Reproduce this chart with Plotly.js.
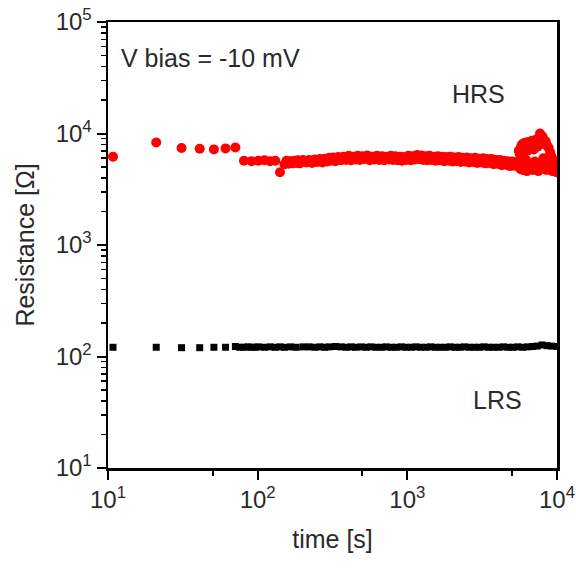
<!DOCTYPE html>
<html>
<head>
<meta charset="utf-8">
<script src="https://cdn.plot.ly/plotly-3.0.1.min.js"></script>
<style>html,body{margin:0;padding:0;background:#fff;}#chart{width:576px;height:570px;}</style>
</head>
<body>
<div id="chart"></div>
<script>
// HRS (red) data: time [s], resistance [Ohm]
const hrsTime = [10.8,21,31,41,51,61,71,81,91,101,
  111,121,131,141,
  151,156,161,166,171,176,181,186,191,201,
  211,221,231,241,251,261,271,281,291,301,
  311,321,331,346,361,376,391,406,421,436,
  451,466,481,501,521,541,561,581,601,626,
  651,676,701,726,751,776,801,831,861,891,
  921,951,981,1016,1051,1086,1121,1161,1201,1241,
  1281,1321,1361,1406,1451,1501,1551,1601,1651,1706,
  1761,1821,1881,1941,2001,2066,2131,2201,2271,2346,
  2421,2501,2581,2666,2751,2841,2931,3026,3121,3221,
  3321,3431,3541,3656,3771,3891,4011,4141,4271,4411,
  4551,4701,4841,5001,5151,5311,5481,
  5551,5601,5651,5701,5751,5801,5851,5901,5951,6001,
  6051,6101,6151,6201,6251,6301,6351,6401,6451,6501,
  6601,6701,6801,6901,7001,7101,7201,7301,7401,7501,
  7601,7701,7801,7901,8001,8101,8201,8301,8401,8501,
  8601,8701,8801,8901,9001,9101,9201,9301,9401,9501,
  9601,9701,9801,9901,9991];
const hrsR = [6200,8300,7400,7300,7200,7350,7500,5700,5650,5700,
  5750,5650,5700,4500,
  5300,5700,5350,5650,5400,5700,5450,5750,5400,5800,
  5500,5800,5450,5850,5550,5900,5500,5950,5600,6050,
  5700,6100,5650,6150,5750,6200,5800,6300,5750,6200,
  5850,6300,5800,6250,5900,6350,5750,6200,5850,6300,
  5800,6250,5750,6200,5850,6300,5800,6250,5750,6200,
  5700,6150,5800,6300,5750,6250,5850,6400,5900,6350,
  5800,6250,5750,6300,5800,6200,5700,6250,5750,6200,
  5650,6150,5700,6200,5600,6100,5650,6150,5550,6050,
  5600,6100,5500,6000,5550,6050,5450,5950,5500,6000,
  5400,5900,5450,5900,5300,5800,5350,5800,5200,5700,
  5250,5650,5100,5600,5150,5550,5400,
  7000,5000,6500,4800,7600,5600,8000,4700,6800,5300,
  8200,5000,7400,5800,8300,4600,7000,5500,8400,4900,
  7800,5200,8600,4700,7200,5600,8800,5000,7600,4600,
  9200,10000,8600,5400,9400,6000,8000,5000,8500,4700,
  7800,5400,7400,4800,6800,5200,6200,4600,5800,4900,
  5300,4600,5000,4500,4700];

// LRS (black) data
const lrsTime = [10.8,21,31,41,51,61,71,76,81,86,
  91,96,101,111,121,131,141,151,166,181,
  201,221,241,261,281,301,331,361,391,421,
  451,491,531,571,621,671,721,781,841,911,
  981,1061,1141,1231,1331,1431,1541,1661,1791,1931,
  2081,2241,2411,2601,2801,3021,3251,3501,3771,4061,
  4381,4721,5081,5481,5901,6361,6851,7381,7951,8571,
  9231,9951];
const lrsR = [121,121,120,120,121,121,123,121,121,122,
  121,121,122,121,122,121,122,121,122,121,
  122,122,121,122,121,122,123,122,121,122,
  121,122,121,122,121,121,122,121,121,122,
  121,121,122,121,121,122,121,121,121,122,
  121,121,122,121,121,121,122,121,121,121,
  122,121,121,122,121,122,123,124,127,125,
  124,123];

const xTickVals = [10,100,1000,10000];
const xTickText = ['10<sup>1</sup>','10<sup>2</sup>','10<sup>3</sup>','10<sup>4</sup>'];
const yTickVals = [10,100,1000,10000,100000];
const yTickText = ['10<sup>1</sup>','10<sup>2</sup>','10<sup>3</sup>','10<sup>4</sup>','10<sup>5</sup>'];
const xMinor = [50,500,5000];
const yMinor = [20,30,40,50,60,70,80,90,200,300,400,500,600,700,800,900,2000,3000,4000,5000,6000,7000,8000,9000,20000,30000,40000,50000,60000,70000,80000,90000];

const FONT = 'Liberation Sans, Arial, sans-serif';
const TXT = '#2a2a2a';

const traces = [
  {x: lrsTime, y: lrsR, type: 'scatter', mode: 'markers', name: 'LRS',
   marker: {symbol: 'square', size: 7, color: '#000'}, cliponaxis: true},
  {x: hrsTime, y: hrsR, type: 'scatter', mode: 'markers', name: 'HRS',
   marker: {symbol: 'circle', size: 10, color: '#ff0000'}, cliponaxis: true}
];

const layout = {
  width: 576, height: 570,
  margin: {l: 108, r: 19, t: 22, b: 102},
  paper_bgcolor: '#fff', plot_bgcolor: '#fff',
  showlegend: false,
  font: {family: FONT, color: TXT, size: 24},
  xaxis: {
    type: 'log', range: [1, 4], showgrid: false, zeroline: false,
    showline: true, linecolor: '#000', linewidth: 2.5, mirror: true,
    ticks: 'outside', ticklen: 9, tickwidth: 2, tickcolor: '#000',
    tickmode: 'array', tickvals: xTickVals, ticktext: xTickText,
    tickfont: {family: FONT, size: 24, color: TXT},
    minor: {tickmode: 'array', tickvals: xMinor, ticks: 'outside', ticklen: 5, tickwidth: 2, tickcolor: '#000', showgrid: false},
    title: {text: 'time [s]', font: {family: FONT, size: 25, color: TXT}, standoff: 18},
    automargin: false
  },
  yaxis: {
    type: 'log', range: [1, 5], showgrid: false, zeroline: false,
    showline: true, linecolor: '#000', linewidth: 2.5, mirror: true,
    ticks: 'outside', ticklen: 9, tickwidth: 2, tickcolor: '#000',
    tickmode: 'array', tickvals: yTickVals, ticktext: yTickText,
    tickfont: {family: FONT, size: 24, color: TXT},
    minor: {tickmode: 'array', tickvals: yMinor, ticks: 'outside', ticklen: 5, tickwidth: 1.5, tickcolor: '#000', showgrid: false},
    title: {text: 'Resistance [Ω]', font: {family: FONT, size: 25, color: TXT}, standoff: 14},
    automargin: false
  },
  annotations: [
    {text: 'V bias = -10 mV', xref: 'paper', yref: 'paper', x: 0.025, y: 0.92, xanchor: 'left', yanchor: 'middle', showarrow: false, font: {family: FONT, size: 25, color: TXT}},
    {text: 'HRS', xref: 'paper', yref: 'paper', x: 0.826, y: 0.838, xanchor: 'center', yanchor: 'middle', showarrow: false, font: {family: FONT, size: 25, color: TXT}},
    {text: 'LRS', xref: 'paper', yref: 'paper', x: 0.868, y: 0.152, xanchor: 'center', yanchor: 'middle', showarrow: false, font: {family: FONT, size: 25, color: TXT}}
  ]
};

Plotly.newPlot('chart', traces, layout, {displayModeBar: false, staticPlot: true});
</script>
</body>
</html>
